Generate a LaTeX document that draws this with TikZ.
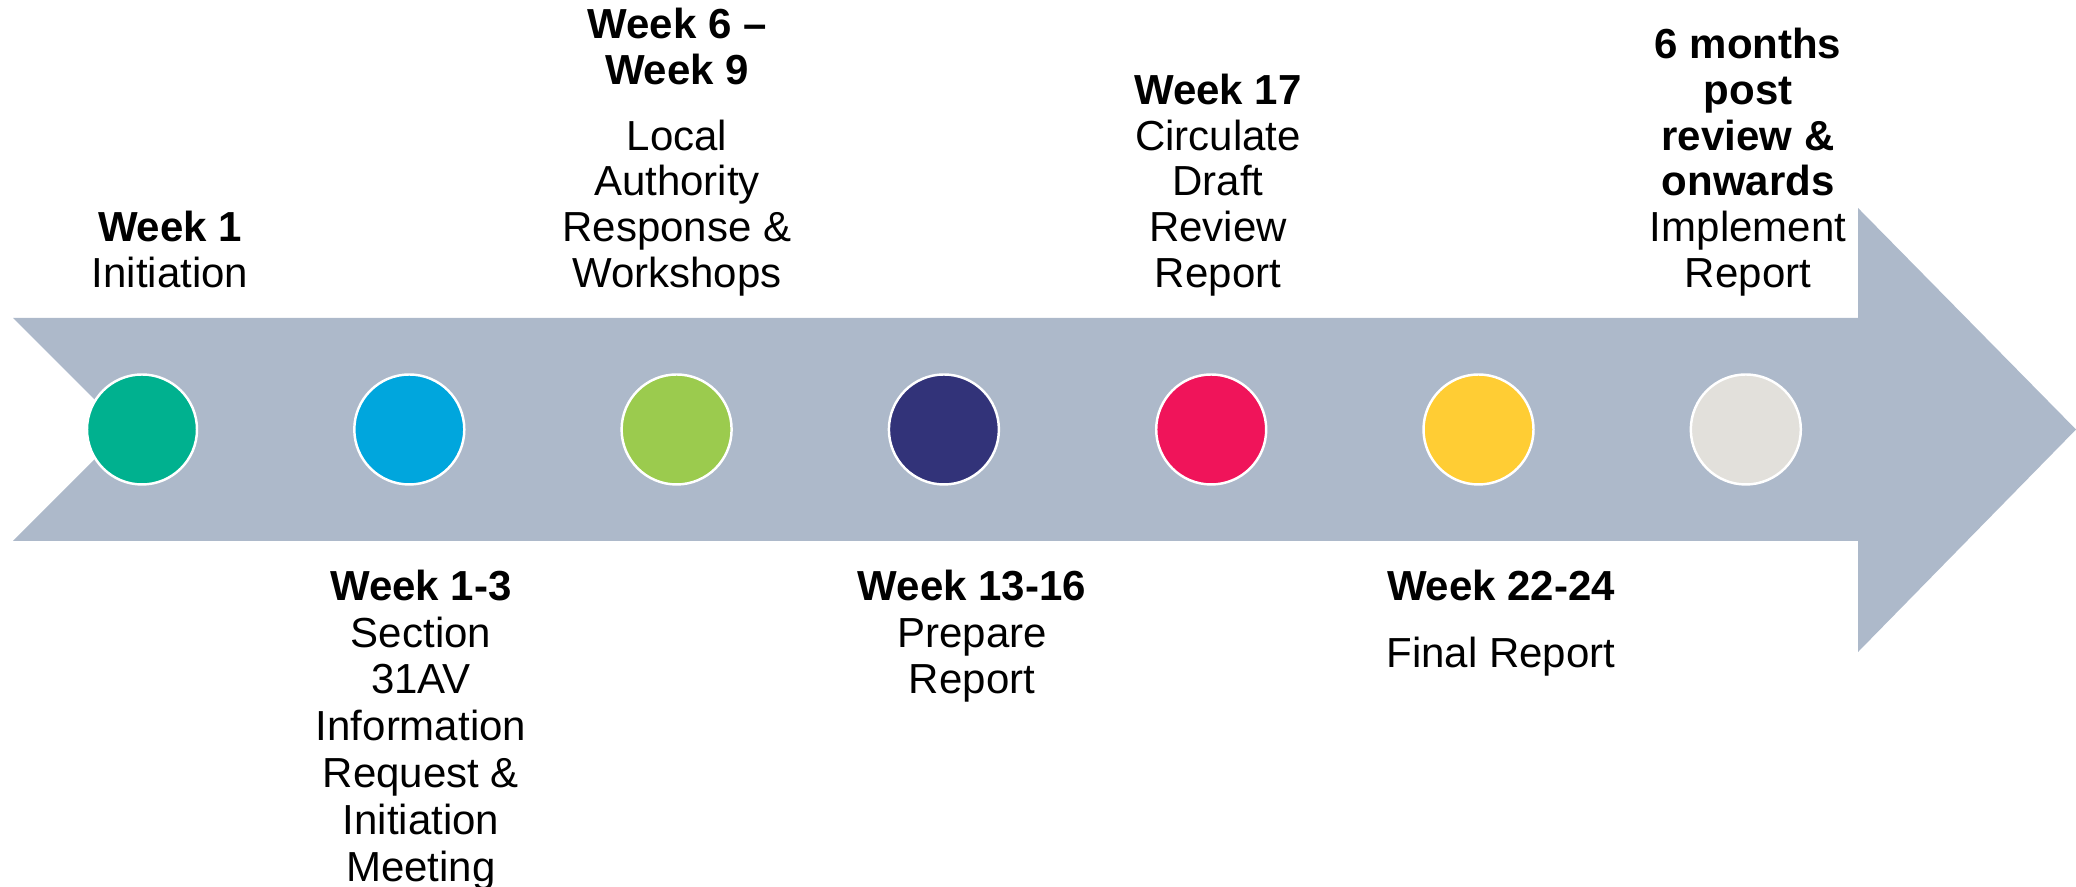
\documentclass[tikz,border=0pt]{standalone}
\usepackage{fontspec}
\setmainfont{Liberation Sans}
\definecolor{shaft}{HTML}{ADB9CA}
\definecolor{mgreen}{HTML}{00B18F}
\definecolor{mblue}{HTML}{00A6DD}
\definecolor{mlime}{HTML}{9BCB4E}
\definecolor{mnavy}{HTML}{323379}
\definecolor{mpink}{HTML}{F0145A}
\definecolor{myellow}{HTML}{FFCD34}
\definecolor{mgrey}{HTML}{E2E0DB}
\tikzset{
    milestone/.style={circle, draw=white, line width=0.7pt, minimum size=1.1cm, inner sep=0pt},
    stagetext/.style={align=center, inner sep=0pt},
    toplabel/.style={stagetext, anchor=south, text depth=0pt, font=\fontsize{11.95}{13}\selectfont},
    bottomlabel/.style={stagetext, anchor=north, font=\fontsize{11.95}{13.35}\selectfont},
}

\begin{document}
\begin{tikzpicture}
    \useasboundingbox (0,0) rectangle (20.76,8.87);
    % notched arrow along the timeline
    \fill[shaft] (0.13,5.69) -- (18.58,5.69) -- (18.58,6.79) -- (20.76,4.575)
        -- (18.58,2.35) -- (18.58,3.46) -- (0.13,3.46) -- (1.245,4.575) -- cycle;
    \foreach \col [count=\i] in {mgreen,mblue,mlime,mnavy,mpink,myellow,mgrey}
        \node[milestone, fill=\col] (m\i) at ({1.42+(\i-1)*2.673}, 4.575) {};
    % stages above the arrow
    \node[toplabel] (t1) at (1.70, 5.99) {\textbf{Week 1}\\Initiation};
    \node[toplabel] (t3) at (6.77, 5.99) {\textbf{Week 6 –}\\\textbf{Week 9}\\[0.2cm]Local\\Authority\\Response \&\\Workshops};
    \node[toplabel] (t5) at (12.18, 5.99) {\textbf{Week 17}\\Circulate\\Draft\\Review\\Report};
    \node[toplabel] (t7) at (17.48, 5.99) {\textbf{6 months}\\\textbf{post}\\\textbf{review \&}\\\textbf{onwards}\\Implement\\Report};
    % stages below the arrow
    \node[bottomlabel] (b2) at (4.21, 3.18) {\textbf{Week 1-3}\\Section\\31AV\\Information\\Request \&\\Initiation\\Meeting};
    \node[bottomlabel] (b4) at (9.72, 3.18) {\textbf{Week 13-16}\\Prepare\\Report};
    \node[bottomlabel] (b6) at (15.01, 3.18) {\textbf{Week 22-24}\\[0.2cm]Final Report};
\end{tikzpicture}
\end{document}
